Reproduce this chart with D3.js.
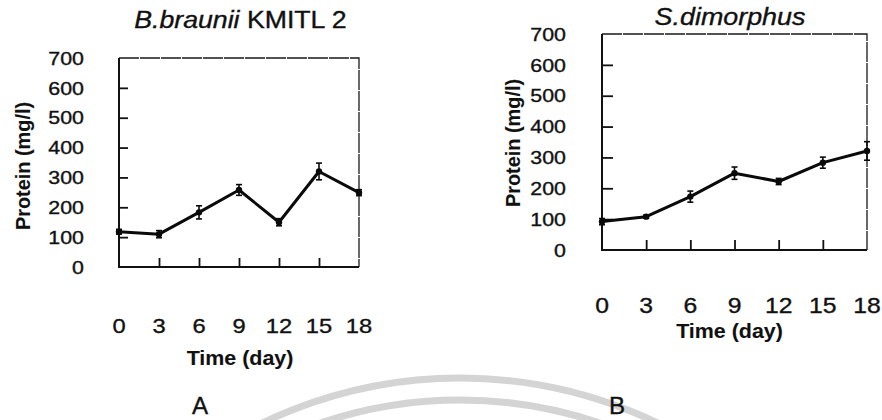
<!DOCTYPE html>
<html>
<head>
<meta charset="utf-8">
<script src="https://cdn.jsdelivr.net/npm/d3@7"></script>
<style>
  html, body { margin: 0; padding: 0; background: #fff; }
  svg { display: block; }
  text { font-family: "Liberation Sans", Arial, Helvetica, sans-serif; fill: #111; stroke: #111; stroke-width: 0.35px; }
</style>
</head>
<body>
<svg id="fig" width="882" height="420"></svg>
<script>
// Sampling days
const days = [0, 3, 6, 9, 12, 15, 18];
// Protein concentration (mg/l) and error (±) for each strain
const proteinBraunii = [118, 110, 183, 258, 150, 320, 249];
const errorBraunii   = [8, 12, 22, 18, 12, 28, 10];
const proteinDimorphus = [92, 108, 173, 249, 222, 283, 321];
const errorDimorphus   = [10, 5, 18, 20, 10, 18, 30];
// Axis tick values
const yTickValues = [0, 100, 200, 300, 400, 500, 600, 700];
const xTickValues = days;

// The typeface used in the figure runs wide, so text is stretched horizontally.
const WIDE = 1.15;

const svg = d3.select("#fig");

// Faint watermark arcs behind the figures
const arcs = [456, 434];
svg.append("g").selectAll("circle").data(arcs).join("circle")
  .attr("cx", 460).attr("cy", 834).attr("r", d => d)
  .attr("fill", "none").attr("stroke", "#d4d4d4").attr("stroke-width", 7);

// Place a text at (x, y) with optional rotation and horizontal stretch
function label(sel, x, y, opts) {
  const o = Object.assign({ rot: 0, sx: WIDE, anchor: "middle", size: 20, weight: "normal", dy: "0.36em" }, opts);
  return sel.append("text")
    .attr("transform", `translate(${x},${y})` + (o.rot ? ` rotate(${o.rot})` : "") + ` scale(${o.sx},1)`)
    .attr("dy", o.dy).attr("text-anchor", o.anchor)
    .style("font-size", o.size + "px").style("font-weight", o.weight)
    .style("stroke-width", o.weight === "bold" ? "0.1px" : "0.35px");
}

function drawPanel(cfg) {
  const g = svg.append("g");
  const x = d3.scaleLinear().domain([0, 18]).range([cfg.left, cfg.right]);
  const y = d3.scaleLinear().domain([0, 700]).range([cfg.bottom, cfg.top]);

  // top and right frame edges (thin, slightly broken)
  g.append("path")
    .attr("d", `M${cfg.left},${cfg.top}H${cfg.right}V${cfg.bottom}`)
    .attr("fill", "none").attr("stroke", "#1a1a1a").attr("stroke-width", 1.3)
    .attr("stroke-dasharray", "20 1");

  // left axis: ticks point inward, labels on the outside
  const yAxis = d3.axisRight(y).tickValues(yTickValues.slice(1, -1))
    .tickSize(cfg.yTick).tickFormat("");
  g.append("g").attr("transform", `translate(${cfg.left},0)`).call(yAxis)
    .call(s => s.select(".domain").remove())
    .call(s => s.selectAll("line").attr("stroke", "#111").attr("stroke-width", 1.8));
  g.append("line").attr("x1", cfg.left).attr("x2", cfg.left)
    .attr("y1", cfg.top).attr("y2", cfg.bottom + 1)
    .attr("stroke", "#111").attr("stroke-width", 2);

  yTickValues.forEach(v => {
    label(g, cfg.yLabelX, y(v), { anchor: "end", size: 18.6 }).text(v);
  });

  // bottom axis: ticks point up into the plot, labels well below
  const xAxis = d3.axisTop(x).tickValues(xTickValues.slice(1, -1))
    .tickSize(cfg.xTick).tickFormat("");
  g.append("g").attr("transform", `translate(0,${cfg.bottom})`).call(xAxis)
    .call(s => s.select(".domain").remove())
    .call(s => s.selectAll("line").attr("stroke", "#111").attr("stroke-width", 1.8));
  g.append("line").attr("x1", cfg.left - 1).attr("x2", cfg.right)
    .attr("y1", cfg.bottom).attr("y2", cfg.bottom)
    .attr("stroke", "#111").attr("stroke-width", 2);

  xTickValues.forEach(v => {
    label(g, x(v), cfg.xLabelY, { size: cfg.xFont, sx: cfg.xStretch }).text(v);
  });

  // axis titles
  label(g, (cfg.left + cfg.right) / 2 + cfg.xTitleShift, cfg.xTitleY, { size: 21, weight: "bold", sx: 1.02 })
    .text("Time (day)");
  label(g, cfg.yTitleX, cfg.yTitleY, { rot: -90, size: 20.5, weight: "bold", sx: 0.97 })
    .text("Protein (mg/l)");

  // panel heading
  const h = label(g, cfg.headX, cfg.headY, { size: cfg.headFont, dy: 0, sx: cfg.headStretch });
  h.append("tspan").style("font-style", "italic").text(cfg.species);
  if (cfg.strain) h.append("tspan").text(" " + cfg.strain);

  // panel letter
  label(g, cfg.letterX, 406, { size: 23, sx: 1.05 }).text(cfg.letter);

  // series
  const pts = days.map((d, i) => ({ day: d, v: cfg.values[i], e: cfg.errors[i] }));
  const line = d3.line().x(d => x(d.day)).y(d => y(d.v));
  g.append("path").datum(pts).attr("d", line)
    .attr("fill", "none").attr("stroke", "#0a0a0a").attr("stroke-width", 3)
    .attr("stroke-linejoin", "round");

  const eb = g.append("g").selectAll("g").data(pts).join("g")
    .attr("stroke", "#0a0a0a").attr("stroke-width", 1.6);
  eb.append("line").attr("x1", d => x(d.day)).attr("x2", d => x(d.day))
    .attr("y1", d => y(d.v - d.e)).attr("y2", d => y(d.v + d.e));
  eb.append("line").attr("x1", d => x(d.day) - 3).attr("x2", d => x(d.day) + 3)
    .attr("y1", d => y(d.v + d.e)).attr("y2", d => y(d.v + d.e));
  eb.append("line").attr("x1", d => x(d.day) - 3).attr("x2", d => x(d.day) + 3)
    .attr("y1", d => y(d.v - d.e)).attr("y2", d => y(d.v - d.e));

  g.append("g").selectAll("circle").data(pts).join("circle")
    .attr("cx", d => x(d.day)).attr("cy", d => y(d.v)).attr("r", 3.2)
    .attr("fill", "#0a0a0a");
}

drawPanel({
  left: 119, right: 359, top: 58, bottom: 267,
  yTick: 9, xTick: 9, yLabelX: 84,
  xLabelY: 325, xFont: 21, xStretch: 1.13, xTitleY: 357, xTitleShift: 1,
  yTitleX: 23, yTitleY: 166,
  headX: 240.5, headY: 28, headFont: 23, headStretch: 1.16,
  species: "B.braunii", strain: "KMITL 2",
  letterX: 200, letter: "A",
  values: proteinBraunii, errors: errorBraunii
});

drawPanel({
  left: 602, right: 867, top: 34, bottom: 250,
  yTick: 11, xTick: 10, yLabelX: 566,
  xLabelY: 305, xFont: 21.5, xStretch: 1.15, xTitleY: 330, xTitleShift: -5,
  yTitleX: 513, yTitleY: 143,
  headX: 730, headY: 25, headFont: 24, headStretch: 1.12,
  species: "S.dimorphus", strain: null,
  letterX: 617, letter: "B",
  values: proteinDimorphus, errors: errorDimorphus
});
</script>
</body>
</html>
